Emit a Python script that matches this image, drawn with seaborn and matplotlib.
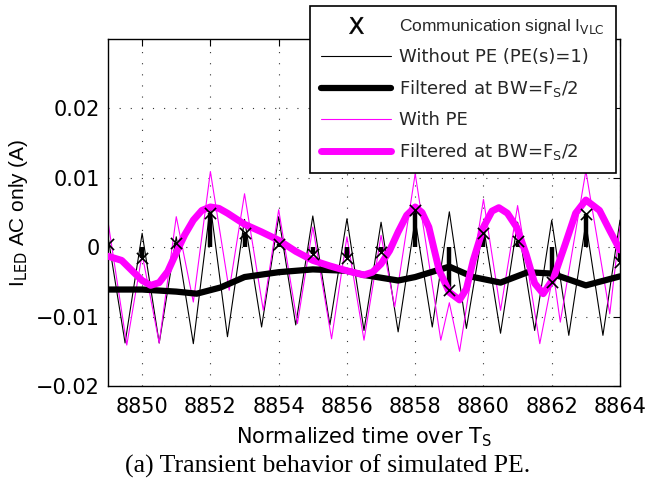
import matplotlib
matplotlib.use("Agg")
import matplotlib.pyplot as plt
import pandas as pd
import seaborn as sns
from matplotlib.lines import Line2D

# Communication signal samples (one per symbol period)
signal_t = [8849, 8850, 8851, 8852, 8853, 8854, 8855, 8856,
            8857, 8858, 8859, 8860, 8861, 8862, 8863, 8864]
signal_i = [0.0005, -0.0015, 0.0006, 0.0049, 0.0020, 0.0005, -0.0010, -0.0016,
            -0.0007, 0.0053, -0.0062, 0.0020, 0.0009, -0.0050, 0.0048, -0.0022]

# LED current without pre-emphasis (switching ripple)
nope_t = [8849.0, 8849.5, 8850.0, 8850.5, 8851.0, 8851.5, 8852.0, 8852.5,
          8853.0, 8853.5, 8854.0, 8854.5, 8855.0, 8855.5, 8856.0, 8856.5,
          8857.0, 8857.5, 8858.0, 8858.5, 8859.0, 8859.5, 8860.0, 8860.5,
          8861.0, 8861.5, 8862.0, 8862.5, 8863.0, 8863.5, 8864.0]
nope_i = [0.0015, -0.0138, 0.0020, -0.0138, 0.0015, -0.0139, 0.0060, -0.0129,
          0.0040, -0.0115, 0.0044, -0.0112, 0.0045, -0.0112, 0.0041, -0.0120,
          0.0036, -0.0122, 0.0040, -0.0115, 0.0051, -0.0117, 0.0030, -0.0124,
          0.0036, -0.0120, 0.0039, -0.0127, 0.0035, -0.0127, 0.0039]

# Same current after low-pass filtering at Fs/2
nope_filt_t = [8849.0, 8850.0, 8851.0, 8851.6, 8852.3, 8853.0, 8854.0, 8855.0,
               8856.0, 8856.5, 8857.5, 8858.0, 8859.0, 8859.7, 8860.5, 8861.3,
               8862.0, 8863.0, 8864.0]
nope_filt_i = [-0.0061, -0.0061, -0.0064, -0.0067, -0.0058, -0.0043, -0.0036, -0.0032,
               -0.0034, -0.0040, -0.0048, -0.0043, -0.0028, -0.0043, -0.0051, -0.0036,
               -0.0038, -0.0055, -0.0042]

# LED current with pre-emphasis
pe_t = [8849.0, 8849.55, 8850.0, 8850.5, 8851.0, 8851.5, 8852.0, 8852.55,
        8853.0, 8853.55, 8854.0, 8854.55, 8855.0, 8855.55, 8856.0, 8856.5,
        8857.0, 8857.4, 8858.0, 8858.75, 8859.0, 8859.3, 8860.0, 8860.5,
        8861.0, 8861.65, 8862.05, 8862.25, 8863.0, 8863.7, 8864.0]
pe_i = [0.0037, -0.0141, -0.0010, -0.0138, 0.0044, -0.0079, 0.0109, -0.0062,
        0.0077, -0.0091, 0.0054, -0.0110, 0.0029, -0.0132, 0.0015, -0.0134,
        0.0017, -0.0086, 0.0106, -0.0134, -0.0080, -0.0150, 0.0069, -0.0091,
        0.0060, -0.0139, -0.0038, -0.0108, 0.0110, -0.0096, 0.0030]

# Pre-emphasised current after low-pass filtering at Fs/2
pe_filt_t = [8849.0, 8849.4, 8849.75, 8850.0, 8850.25, 8850.5, 8850.75, 8851.0,
             8851.25, 8851.5, 8851.75, 8852.0, 8852.25, 8852.5, 8853.0, 8853.5,
             8854.0, 8854.5, 8855.0, 8855.5, 8856.0, 8856.5, 8856.75, 8857.0,
             8857.25, 8857.5, 8857.75, 8858.0, 8858.2, 8858.4, 8858.7, 8859.0,
             8859.3, 8859.5, 8859.7, 8860.0, 8860.25, 8860.45, 8860.7, 8860.97,
             8861.25, 8861.5, 8861.75, 8862.05, 8862.4, 8862.7, 8863.0, 8863.4,
             8863.7, 8864.0]
pe_filt_i = [-0.0013, -0.0019, -0.0036, -0.0048, -0.0055, -0.0051, -0.0035, -0.0008,
             0.0018, 0.0039, 0.0053, 0.0058, 0.0056, 0.0049, 0.0033, 0.0022,
             0.0010, -0.0006, -0.0019, -0.0027, -0.0034, -0.0040, -0.0036, -0.0024,
             -0.0005, 0.0022, 0.0046, 0.0058, 0.0050, 0.0029, -0.0033, -0.0065,
             -0.0076, -0.0060, -0.0019, 0.0029, 0.0052, 0.0057, 0.0049, 0.0029,
             -0.0010, -0.0052, -0.0067, -0.0045, 0.0005, 0.0049, 0.0068, 0.0053,
             0.0024, -0.0004]

x_ticks = [8850, 8852, 8854, 8856, 8858, 8860, 8862, 8864]
y_ticks = [-0.02, -0.01, 0.0, 0.01, 0.02]
y_tick_labels = ["\u22120.02", "\u22120.01", "0", "0.01", "0.02"]

legend_labels = [
    r"Communication signal I$_{\mathrm{VLC}}$",
    "Without PE (PE(s)=1)",
    r"Filtered at BW=F$_{\mathrm{S}}$/2",
    "With PE",
    r"Filtered at BW=F$_{\mathrm{S}}$/2",
]

sns.set_theme(style="white")
plt.rcParams["font.family"] = ["DejaVu Sans"]
plt.rcParams["mathtext.fontset"] = "custom"
plt.rcParams["mathtext.rm"] = "DejaVu Sans"
plt.rcParams["mathtext.it"] = "DejaVu Sans:italic"
plt.rcParams["mathtext.bf"] = "DejaVu Sans:bold"

MAGENTA = "#ff00ff"

fig = plt.figure(figsize=(6.45, 4.87), dpi=100)
ax = fig.add_axes([108 / 645, 1 - 386 / 487, (620 - 108) / 645, (386 - 39) / 487])

sig = pd.DataFrame({"t": signal_t, "i": signal_i})
nope = pd.DataFrame({"t": nope_t, "i": nope_i})
nope_f = pd.DataFrame({"t": nope_filt_t, "i": nope_filt_i})
pe = pd.DataFrame({"t": pe_t, "i": pe_i})
pe_f = pd.DataFrame({"t": pe_filt_t, "i": pe_filt_i})

# stems of the communication signal
ax.vlines(sig["t"], 0, sig["i"], color="black", lw=3.2, zorder=3)

sns.lineplot(data=nope, x="t", y="i", sort=False, estimator=None, color="black",
             lw=0.8, ax=ax, legend=False, zorder=2)
sns.lineplot(data=nope_f, x="t", y="i", sort=False, estimator=None, color="black",
             lw=4.5, ax=ax, legend=False, zorder=4)
sns.lineplot(data=pe, x="t", y="i", sort=False, estimator=None, color=MAGENTA,
             lw=0.8, ax=ax, legend=False, zorder=2.5)
sns.lineplot(data=pe_f, x="t", y="i", sort=False, estimator=None, color=MAGENTA,
             lw=5.0, ax=ax, legend=False, zorder=5)
sns.scatterplot(data=sig, x="t", y="i", marker="x", s=65, color="black",
                linewidth=1.2, ax=ax, legend=False, zorder=6)

ax.set_xlim(8849, 8864)
ax.set_ylim(-0.02, 0.03)
ax.set_xticks(x_ticks)
ax.set_xticklabels([str(v) for v in x_ticks])
ax.set_yticks(y_ticks)
ax.set_yticklabels(y_tick_labels)

ax.grid(True, color="#333333", lw=0.8, ls=(0, (1, 9)))
ax.set_axisbelow(True)
for sp in ax.spines.values():
    sp.set_color("black")
    sp.set_linewidth(1.0)
ax.tick_params(direction="in", length=5, width=0.8, top=True, right=True,
               labelsize=15, colors="black")
ax.tick_params(axis="x", pad=8)
ax.tick_params(axis="y", pad=6)

ax.set_xlabel(r"Normalized time over T$_{\mathrm{S}}$", fontsize=15, color="black", labelpad=6)
ax.set_ylabel(r"I$_{\mathrm{LED}}$ AC only (A)", fontsize=15, color="black", labelpad=4,
              family="Liberation Sans")

handles = [
    Line2D([], [], ls="none", marker=r"$\mathrm{X}$", color="black", ms=12, mew=0.3),
    Line2D([], [], color="black", lw=0.8),
    Line2D([], [], color="black", lw=4.5),
    Line2D([], [], color=MAGENTA, lw=0.8),
    Line2D([], [], color=MAGENTA, lw=5.0),
]
leg = ax.legend(handles, legend_labels, loc="upper left",
                bbox_to_anchor=(310 / 645, 1 - 6 / 487), bbox_transform=fig.transFigure,
                fontsize=13, frameon=True, fancybox=False, shadow=False,
                handlelength=3.9, handletextpad=0.45, borderpad=0.6,
                labelspacing=0.67, borderaxespad=0)
leg.get_texts()[0].set_family("Liberation Sans")
leg.get_texts()[0].set_fontsize(12.5)
leg.get_frame().set_edgecolor("black")
leg.get_frame().set_linewidth(1.2)
leg.get_frame().set_alpha(1.0)
leg.set_zorder(10)

fig.text(0.5 + 5 / 645, 1 - 466 / 487, "(a) Transient behavior of simulated PE.",
         ha="center", va="center", fontsize=18.5, family="Liberation Serif", color="black")

fig.savefig("out.png", dpi=100)
